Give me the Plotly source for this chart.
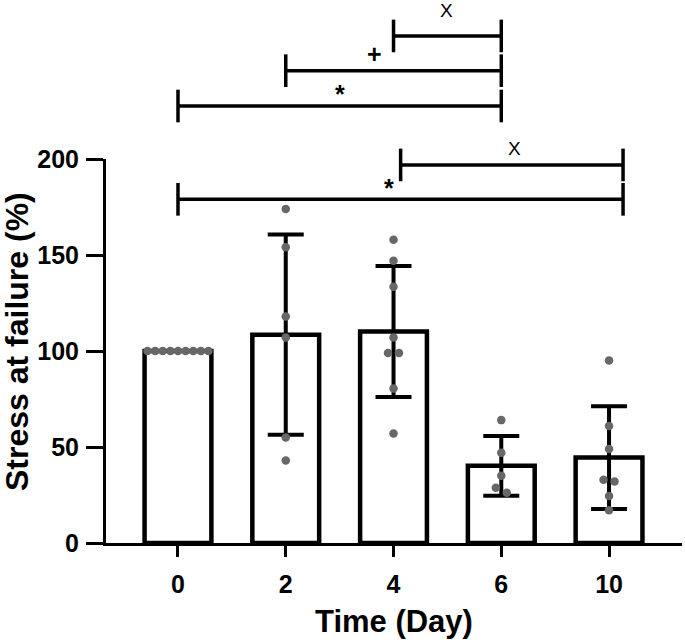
import numpy as np
import plotly.graph_objects as go

# ---------------- data ----------------
days = ["0", "2", "4", "6", "10"]
day0 = [100, 100, 100, 100, 100, 100, 100, 100, 100]
day2 = [174, 154, 118, 107, 55, 43]
day4 = [158, 147, 133.5, 107, 99, 99, 80.5, 57]
day6 = [64, 47, 35, 28.8, 26.2]
day10 = [95, 61, 49, 33, 32, 24.5, 17]
groups = [day0, day2, day4, day6, day10]

y_ticks = [0, 50, 100, 150, 200]
y_title = "Stress at failure (%)"
x_title = "Time (Day)"

# significance brackets: (start group index, end group index, label, level in y units)
brackets = [
    (2, 3, "X", 264.1),
    (1, 3, "+", 246.0),
    (0, 3, "*", 227.6),
    (2, 4, "X", 196.9),
    (0, 4, "*", 179.0),
]

# ---------------- derived statistics ----------------
means = [float(np.mean(g)) for g in groups]
sds = [float(np.std(g, ddof=1)) if np.std(g) > 0 else float("nan") for g in groups]
xpos = list(range(len(days)))

# ---------------- layout constants ----------------
W, H = 685, 640
ML, MR, MT, MB = 106, 3, 159, 97
PW, PH = W - ML - MR, H - MT - MB
XR = [-0.668, 4.677]
YR = [0, 200]
ppu_x = PW / (XR[1] - XR[0])        # pixels per category unit
ppu_y = PH / (YR[1] - YR[0])        # pixels per y unit

FONT = "Liberation Sans, Arial, sans-serif"
DOT = "#676767"


def swarm_offsets(vals, y_tol=5.0, step_px=11.0, span_px=61.0):
    vals = np.asarray(vals, dtype=float)
    order = np.argsort(-vals, kind="stable")
    offs = np.zeros(len(vals))
    clusters, cur = [], [order[0]]
    for a, b in zip(order[:-1], order[1:]):
        if abs(vals[a] - vals[b]) <= y_tol:
            cur.append(b)
        else:
            clusters.append(cur)
            cur = [b]
    clusters.append(cur)
    for c in clusters:
        n = len(c)
        if n == 1:
            continue
        s = min(step_px, span_px / (n - 1))
        for k, idx in enumerate(c):
            offs[idx] = (k - (n - 1) / 2) * s / ppu_x
    return offs


fig = go.Figure()

fig.add_trace(go.Bar(
    x=xpos, y=means, width=0.62,
    marker=dict(color="white", line=dict(color="black", width=4.5)),
    error_y=dict(type="data", array=sds, symmetric=True,
                 color="black", thickness=4, width=18),
    showlegend=False, hoverinfo="skip",
))

px_all, py_all = [], []
for i, g in enumerate(groups):
    offs = swarm_offsets(g)
    px_all += list(i + offs)
    py_all += list(g)

fig.add_trace(go.Scatter(
    x=px_all, y=py_all, mode="markers",
    marker=dict(color=DOT, size=8.5, line=dict(width=0)),
    showlegend=False, hoverinfo="skip", cliponaxis=False,
))

# brackets
half = 8.5
end_shift = {4: 0.13}  # the lower brackets end slightly right of the "10" column
start_shift = {(2, 4): 0.066}
label_pos = {0: (2.495, 13.5), 1: (1.827, 8.7), 2: (1.503, 6.0),
             3: (3.126, 8.8), 4: (1.957, 6.0)}
shapes = []
annos = []
for k, (a, b, lab, lev) in enumerate(brackets):
    x0 = a + start_shift.get((a, b), 0)
    x1 = b + end_shift.get(b, 0)
    yp = lev / YR[1]
    dh = half / YR[1]
    line = dict(color="black", width=3.5)
    shapes.append(dict(type="line", xref="x", yref="paper", x0=x0, x1=x1, y0=yp, y1=yp, line=line))
    shapes.append(dict(type="line", xref="x", yref="paper", x0=x0, x1=x0, y0=yp - dh, y1=yp + dh, line=line))
    shapes.append(dict(type="line", xref="x", yref="paper", x0=x1, x1=x1, y0=yp - dh, y1=yp + dh, line=line))
    lx, dy = label_pos[k]
    is_x = lab == "X"
    annos.append(dict(
        x=lx, xref="x", y=(lev + dy) / YR[1], yref="paper",
        text=lab, showarrow=False, xanchor="center", yanchor="middle",
        font=dict(family=FONT, size=19 if is_x else 25, color="black",
                  weight="normal" if is_x else "bold"),
    ))

# axis titles as annotations for exact placement
annos.append(dict(
    x=(17 - ML) / PW, xref="paper", y=(H - MB - 342) / PH, yref="paper",
    text=y_title, textangle=-90, showarrow=False, xanchor="center", yanchor="middle",
    font=dict(family=FONT, size=32, color="black", weight="bold"),
))
annos.append(dict(
    x=0.5, xref="paper", y=(H - MB - 621) / PH, yref="paper",
    text=x_title, showarrow=False, xanchor="center", yanchor="middle",
    font=dict(family=FONT, size=31, color="black", weight="bold"),
))

fig.update_layout(
    width=W, height=H,
    margin=dict(l=ML, r=MR, t=MT, b=MB, pad=0),
    paper_bgcolor="white", plot_bgcolor="white",
    shapes=shapes, annotations=annos,
    bargap=0,
    xaxis=dict(
        range=XR, tickmode="array", tickvals=xpos, ticktext=days,
        showgrid=False, zeroline=False, showline=True, linecolor="black", linewidth=3,
        ticks="outside", ticklen=11, tickwidth=3, tickcolor="black",
        tickfont=dict(family=FONT, size=25, color="black", weight="bold"),
        ticklabelstandoff=6,
    ),
    yaxis=dict(
        range=YR, tickmode="array", tickvals=y_ticks,
        showgrid=False, zeroline=False, showline=True, linecolor="black", linewidth=3,
        ticks="outside", ticklen=17, tickwidth=3, tickcolor="black",
        tickfont=dict(family=FONT, size=25, color="black", weight="bold"),
        ticklabelstandoff=2,
    ),
)

fig.write_html(
    "out.html",
    config={"displayModeBar": False, "staticPlot": True},
    post_script="document.body.style.margin='0';document.body.style.overflow='hidden';",
)
